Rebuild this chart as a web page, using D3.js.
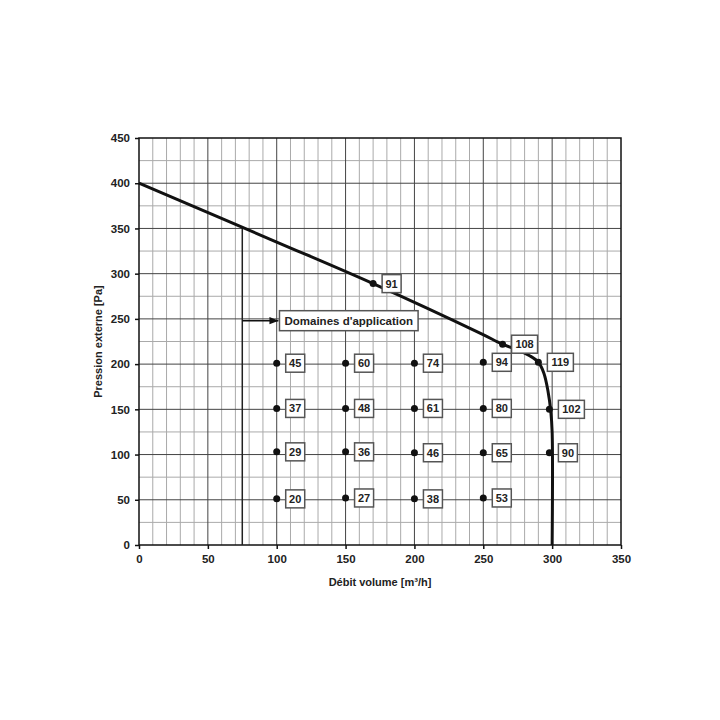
<!DOCTYPE html>
<html>
<head>
<meta charset="utf-8">
<script src="https://cdn.jsdelivr.net/npm/d3@7"></script>
<style>
  body { margin: 0; background: #fff; }
  text { font-family: "Liberation Sans", Arial, sans-serif; font-weight: bold; fill: #222; }
</style>
</head>
<body>
<div id="chart"></div>
<script>
// fan curve (debit m3/h, pression Pa)
const curveFlow = [0, 100, 170, 248, 264, 276, 284, 290, 294, 297, 299, 300, 300];
const curvePressure = [400, 335, 289, 234, 222, 215, 209, 202, 190, 170, 148, 125, 0];

// labelled operating points
const pointFlow = [100, 150, 200, 250, 100, 150, 200, 250, 100, 150, 200, 250, 100, 150, 200, 250, 170, 264, 290, 298, 298];
const pointPressure = [201, 201, 201, 202, 151, 151, 151, 151, 103, 103, 102, 102, 51, 52, 51, 52, 289, 222, 202, 150, 102];
const pointLabels = ["45", "60", "74", "94", "37", "48", "61", "80", "29", "36", "46", "65", "20", "27", "38", "53", "91", "108", "119", "102", "90"];

const xTicks = [0, 50, 100, 150, 200, 250, 300, 350];
const yTicks = [0, 50, 100, 150, 200, 250, 300, 350, 400, 450];
const domainFlow = 75;
const domainLabel = "Domaines d'application";

const width = 720, height = 720;
const margin = { top: 138, right: 99, bottom: 175, left: 139 };

const svg = d3.select("#chart").append("svg")
  .attr("width", width)
  .attr("height", height);

const x = d3.scaleLinear().domain([0, 350]).range([margin.left, width - margin.right]);
const y = d3.scaleLinear().domain([0, 450]).range([height - margin.bottom, margin.top]);

// minor grid
svg.append("g").selectAll("line")
  .data(d3.range(10, 350, 10).filter(d => d % 50 !== 0))
  .join("line")
  .attr("x1", d => x(d)).attr("x2", d => x(d))
  .attr("y1", y(0)).attr("y2", y(450))
  .attr("stroke", "#aaa").attr("stroke-width", 1);
svg.append("g").selectAll("line")
  .data(d3.range(25, 450, 50))
  .join("line")
  .attr("x1", x(0)).attr("x2", x(350))
  .attr("y1", d => y(d)).attr("y2", d => y(d))
  .attr("stroke", "#aaa").attr("stroke-width", 1);

// major grid
svg.append("g").selectAll("line")
  .data(xTicks.slice(1, -1))
  .join("line")
  .attr("x1", d => x(d)).attr("x2", d => x(d))
  .attr("y1", y(0)).attr("y2", y(450))
  .attr("stroke", "#444").attr("stroke-width", 1);
svg.append("g").selectAll("line")
  .data(yTicks.slice(1, -1))
  .join("line")
  .attr("x1", x(0)).attr("x2", x(350))
  .attr("y1", d => y(d)).attr("y2", d => y(d))
  .attr("stroke", "#444").attr("stroke-width", 1);

// frame
svg.append("rect")
  .attr("x", x(0)).attr("y", y(450))
  .attr("width", x(350) - x(0)).attr("height", y(0) - y(450))
  .attr("fill", "none").attr("stroke", "#111").attr("stroke-width", 1.5);

// axes
const xAxis = svg.append("g")
  .attr("transform", `translate(0,${y(0)})`)
  .call(d3.axisBottom(x).tickValues(xTicks).tickSize(4).tickPadding(6));
const yAxis = svg.append("g")
  .attr("transform", `translate(${x(0)},0)`)
  .call(d3.axisLeft(y).tickValues(yTicks).tickSize(4).tickPadding(5));
[xAxis, yAxis].forEach(a => {
  a.select(".domain").remove();
  a.selectAll("line").attr("stroke", "#111").attr("stroke-width", 1.5);
  a.selectAll("text").style("font-size", "11.5px").style("font-family", "Liberation Sans, Arial, sans-serif").style("font-weight", "bold").attr("fill", "#222");
});

svg.append("text")
  .attr("x", (x(0) + x(350)) / 2).attr("y", 586)
  .attr("text-anchor", "middle")
  .style("font-size", "11px")
  .text("Débit volume [m³/h]");
svg.append("text")
  .attr("transform", `translate(102,${(y(0) + y(450)) / 2}) rotate(-90)`)
  .attr("text-anchor", "middle")
  .style("font-size", "11px")
  .text("Pression externe [Pa]");

// domain line + arrow
const curvePts = curveFlow.map((d, i) => [d, curvePressure[i]]);
svg.append("line")
  .attr("x1", x(domainFlow)).attr("x2", x(domainFlow))
  .attr("y1", y(0)).attr("y2", y(351))
  .attr("stroke", "#222").attr("stroke-width", 1.5);

svg.append("defs").append("marker")
  .attr("id", "arrow")
  .attr("viewBox", "0 0 10 10")
  .attr("refX", 10).attr("refY", 5)
  .attr("markerWidth", 6).attr("markerHeight", 6)
  .attr("orient", "auto")
  .append("path").attr("d", "M0,1 L10,5 L0,9 Z").attr("fill", "#111");

const labelLeft = x(102);
svg.append("line")
  .attr("x1", x(domainFlow)).attr("x2", labelLeft - 1)
  .attr("y1", y(248)).attr("y2", y(248))
  .attr("stroke", "#111").attr("stroke-width", 1.5)
  .attr("marker-end", "url(#arrow)");

// curve
svg.append("path")
  .datum(curvePts)
  .attr("d", d3.line().x(d => x(d[0])).y(d => y(d[1])).curve(d3.curveCatmullRom.alpha(0.5)))
  .attr("fill", "none")
  .attr("stroke", "#111")
  .attr("stroke-width", 3);

// domain label box
const dl = svg.append("g").attr("transform", `translate(${labelLeft},${y(248)})`);
const dlText = dl.append("text")
  .attr("x", 5).attr("y", 4.5)
  .style("font-size", "11.5px")
  .text(domainLabel);
const dlw = dlText.node().getComputedTextLength();
dl.insert("rect", "text")
  .attr("x", 0).attr("y", -10)
  .attr("width", dlw + 10).attr("height", 20)
  .attr("fill", "#fff").attr("stroke", "#555").attr("stroke-width", 1.5);

// points + labels
const pts = pointFlow.map((d, i) => ({ q: d, p: pointPressure[i], label: pointLabels[i] }));
svg.append("g").selectAll("circle")
  .data(pts)
  .join("circle")
  .attr("cx", d => x(d.q)).attr("cy", d => y(d.p))
  .attr("r", 3.5)
  .attr("fill", "#111");

const lab = svg.append("g").selectAll("g")
  .data(pts)
  .join("g")
  .attr("transform", d => `translate(${x(d.q) + 9},${y(d.p)})`);
lab.append("rect")
  .attr("x", 0).attr("y", -9)
  .attr("width", d => d.label.length > 2 ? 26 : 19)
  .attr("height", 18)
  .attr("fill", "#fff").attr("stroke", "#555").attr("stroke-width", 1.5);
lab.append("text")
  .attr("x", d => (d.label.length > 2 ? 26 : 19) / 2)
  .attr("y", 4)
  .attr("text-anchor", "middle")
  .style("font-size", "11px")
  .text(d => d.label);
</script>
</body>
</html>
